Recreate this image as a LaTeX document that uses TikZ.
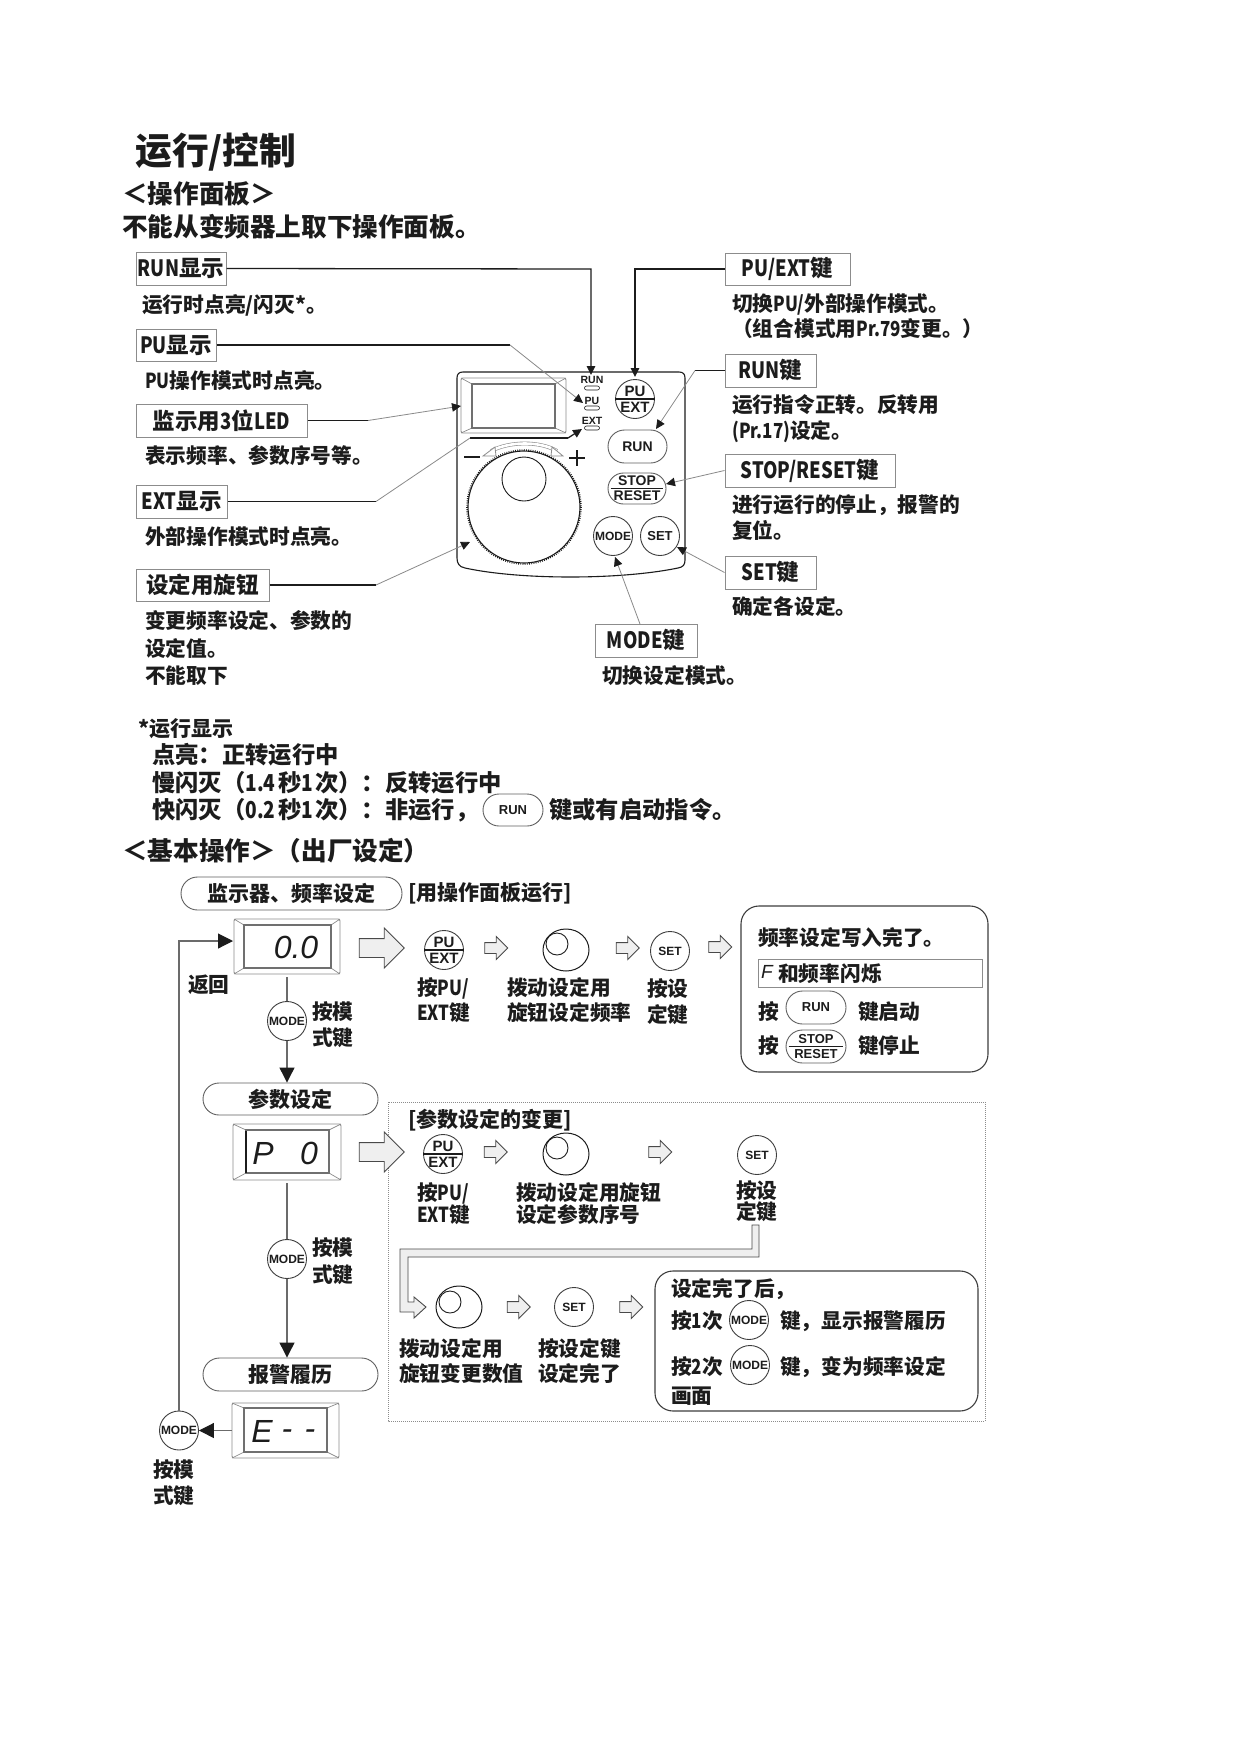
\documentclass[tikz,border=0pt]{standalone}
\usepackage{fontspec}
\setmainfont{Noto Sans CJK SC}
\newfontfamily\btnfont{Liberation Sans}
\newfontfamily\latf{Noto Sans CJK SC}[FakeStretch=0.82]
\newcommand\lf[1]{{\latf #1}}
\usetikzlibrary{arrows.meta,shapes.misc,shapes.geometric,shapes.arrows,calc}
\definecolor{ink}{HTML}{1C1C1C}
\definecolor{lead}{HTML}{8A8A8A}
\definecolor{edge}{HTML}{8C8C8C}
\definecolor{hollow}{HTML}{EFEFEF}
\newcounter{tc}
\newcommand\tx[4]{\stepcounter{tc}\node[txt,font=\fontsize{#3}{#3}\selectfont\bfseries] (t\arabic{tc}) at (#1,#2) {#4};}
\newcommand\lblbox[6]{\node[lblstyle,minimum width={(#4-#2)*1pt},minimum height={(#5-#3)*1pt},font=\fontsize{22.5}{22.5}\selectfont\bfseries] (#1) at ({(#2+#4)/2},{(#3+#5)/2}) {#6};}
\newcommand\pillbox[6]{\node[pillstyle,minimum width={(#4-#2)*1pt},minimum height={(#5-#3)*1pt}] (#1) at ({(#2+#4)/2},{(#3+#5)/2}) {#6};}
\newcommand\puext[4]{\node[btn,minimum size=#4] (#1) at (#2,#3) {};
  \node[btnlabel,font=\btnfont\bfseries\fontsize{15}{15}\selectfont] (#1a) at (#2,{#3-8}) {PU};
  \node[btnlabel,font=\btnfont\bfseries\fontsize{15}{15}\selectfont] (#1b) at (#2,{#3+8.5}) {EXT};
  \draw[line width=1.3pt,ink] (#1.west) -- (#1.east);}
\newcommand\roundbtn[5]{\node[btn,minimum size=39pt,font=\btnfont\bfseries\fontsize{#5}{#5}\selectfont] (#1) at (#2,#3) {#4};}
\newcommand\stopbtn[6]{\node[pillstyle,minimum width={(#4-#2)*1pt},minimum height={(#5-#3)*1pt}] (#1) at ({(#2+#4)/2},{(#3+#5)/2}) {};
  \node[btnlabel,font=\btnfont\bfseries\fontsize{#6}{#6}\selectfont] (#1a) at ({(#2+#4)/2},{(#3+#5)/2-7.5}) {STOP};
  \node[btnlabel,font=\btnfont\bfseries\fontsize{#6}{#6}\selectfont] (#1b) at ({(#2+#4)/2},{(#3+#5)/2+7.5}) {RESET};
  \draw[line width=1.3pt,ink] ($(#1.west)+(3,0)$) -- ($(#1.east)+(-3,0)$);}
\newcommand\runbtn[6]{\node[pillstyle,minimum width={(#4-#2)*1pt},minimum height={(#5-#3)*1pt},font=\btnfont\bfseries\fontsize{#6}{#6}\selectfont] (#1) at ({(#2+#4)/2},{(#3+#5)/2}) {RUN};}
\newcommand\smalldial[5]{\node[dialsty] (#1) at (#2,#3) {};
  \node[dialin] (#1i) at (#4,#5) {};}
\newcommand\disp[9]{\node[dispout,minimum width={(#4-#2)*1pt},minimum height={(#5-#3)*1pt}] (#1) at ({(#2+#4)/2},{(#3+#5)/2}) {};
  \draw[edge,line width=.7pt] (#2,#3) -- (#6,#7) (#4,#3) -- (#8,#7) (#2,#5) -- (#6,#9) (#4,#5) -- (#8,#9);
  \draw[edge!80!black,line width=2.4pt,fill=white] (#6,#7) rectangle (#8,#9);}
\newcommand\segtxt[5]{\stepcounter{tc}\node[inner sep=0,font=\btnfont\itshape\fontsize{#4}{#4}\selectfont,ink,#5] (t\arabic{tc}) at (#1,#2) {#3};}
\tikzset{
  x=1pt,y=-1pt,
  txt/.style={anchor=west,inner sep=0,text height=1.3em,text depth=0em,text=ink},
  lblstyle/.style={draw=edge,line width=1pt,inner sep=0,text=ink},
  pillstyle/.style={rounded rectangle,draw=ink!70,line width=.9pt,inner sep=0,text=ink,font=\fontsize{21}{21}\selectfont\bfseries,fill=white},
  btn/.style={circle,draw=ink!85,line width=.9pt,inner sep=0,fill=white,text=ink},
  btnlabel/.style={inner sep=0,text=ink},
  dialsty/.style={ellipse,draw=ink,line width=1pt,minimum width=46pt,minimum height=42pt,inner sep=0},
  dialin/.style={circle,draw=ink,line width=.9pt,minimum size=22pt,inner sep=0},
  dispout/.style={draw=edge,line width=.9pt,rounded corners=2pt,inner sep=0,fill=white},
  lk/.style={ink,line width=1.3pt},
  lg/.style={lead,line width=.8pt},
  tip/.style={-{Triangle[length=9pt,width=8.5pt,color=ink]}},
  flowln/.style={draw=ink!65,line width=1.1pt},
  bigtip/.style={-{Triangle[length=15pt,width=15pt,color=ink]}},
  harrow/.style={single arrow,draw=ink!80,fill=hollow,line width=.9pt,inner xsep=0,inner ysep=5pt,minimum height=23pt,single arrow head extend=6pt},
  harrowbig/.style={single arrow,draw=ink!80,fill=hollow,line width=.9pt,inner xsep=0,inner ysep=9pt,minimum height=45pt,single arrow head extend=10.5pt},
}
\begin{document}
\begin{tikzpicture}
\useasboundingbox[fill=white] (0,0) rectangle (1241,1755);
% headings
\tx{135}{158}{36.8}{运行/控制}
\tx{122}{197}{25.6}{＜操作面板＞}
\tx{122}{230}{25.6}{不能从变频器上取下操作面板。}
% panel
\draw[ink,line width=1.1pt] (463,372) -- (679,372) .. controls (683,372) and (685,374) .. (685,378) -- (685,560) .. controls (685,565) and (683,567) .. (678,568) .. controls (620,580) and (520,580) .. (465,568) .. controls (459,567) and (457,563) .. (457,558) -- (457,378) .. controls (457,374) and (459,372) .. (463,372) -- cycle;
\disp{pled}{461}{378}{566}{433}{472}{384}{555}{428}
\draw[ink,line width=1.1pt] (470,438) -- (568,438);
\node[btnlabel,font=\btnfont\bfseries\fontsize{10.5}{10.5}\selectfont] (irun) at (592,380) {RUN};
\node[btnlabel,font=\btnfont\bfseries\fontsize{10.5}{10.5}\selectfont] (ipu) at (592,401) {PU};
\node[btnlabel,font=\btnfont\bfseries\fontsize{10.5}{10.5}\selectfont] (iext) at (592,421) {EXT};
\node[rounded rectangle,draw=ink,line width=.6pt,minimum width=15pt,minimum height=4pt,inner sep=0] (lrun) at (592,388) {};
\node[rounded rectangle,draw=ink,line width=.6pt,minimum width=15pt,minimum height=4pt,inner sep=0] (lpu) at (592,408) {};
\node[rounded rectangle,draw=ink,line width=.6pt,minimum width=15pt,minimum height=4pt,inner sep=0] (lext) at (592,428) {};
\puext{pbtn}{635}{399}{39pt}
\runbtn{prun}{608}{430}{667}{463}{14}
\stopbtn{pstop}{608}{473}{666}{504}{14}
\roundbtn{pmode}{613}{536}{MODE}{12}
\roundbtn{pset}{660}{536}{SET}{13}
% dial
\draw[ink,line width=1.1pt] (524,507) circle [radius=56];
\draw[ink,line width=1.6pt,dash pattern=on .8pt off 1.4pt] (524,507) circle [radius=57];
\node[circle,draw=ink,line width=.9pt,minimum size=44pt,inner sep=0] (pdialin) at (524,479) {};
\draw[ink,line width=2pt] (464,457) -- (480,457);
\draw[ink,line width=1.1pt] (569,458) -- (585,458) (577,450) -- (577,466);
\draw[edge,line width=.6pt,double=white,double distance=2.6pt] (491,451) .. controls (510,441) and (540,441) .. (557,451);
\draw[edge,line width=.8pt,fill=white] (483,456) -- (495,447) -- (496,456) -- cycle;
\draw[edge,line width=.8pt,fill=white] (563,456) -- (552,447) -- (551,456) -- cycle;
% left labels
\lblbox{lrunb}{136}{252}{226}{285}{\lf{RUN}显示}
\tx{142}{306}{20.7}{运行时点亮/闪灭*。}
\lblbox{lpub}{136}{329}{216}{361}{\lf{PU}显示}
\tx{145}{382}{20.7}{\lf{PU}操作模式时点亮。}
\lblbox{lledb}{136}{404}{307}{437}{监示用\lf{3}位\lf{LED}}
\tx{145}{457}{20.7}{表示频率、参数序号等。}
\lblbox{lextb}{136}{485}{227}{518}{\lf{EXT}显示}
\tx{145}{538}{20.7}{外部操作模式时点亮。}
\lblbox{ldialb}{136}{569}{269}{601}{设定用旋钮}
\tx{145}{622}{20.7}{变更频率设定、参数的}
\tx{145}{650}{20.7}{设定值。}
\tx{145}{677}{20.7}{不能取下}
% right labels
\lblbox{rpub}{725}{253}{850}{285}{\lf{PU/EXT}键}
\tx{732}{305}{20.7}{切换\lf{PU/}外部操作模式。}
\tx{732}{330}{20.7}{（组合模式用\lf{Pr.79}变更。）}
\lblbox{rrunb}{725}{354}{816}{387}{\lf{RUN}键}
\tx{732}{406}{20.7}{运行指令正转。反转用}
\tx{732}{432}{20.7}{\lf{(Pr.17)}设定。}
\lblbox{rstopb}{725}{454}{895}{487}{\lf{STOP/RESET}键}
\tx{732}{506}{20.7}{进行运行的停止，报警的}
\tx{732}{532}{20.7}{复位。}
\lblbox{rsetb}{725}{556}{816}{589}{\lf{SET}键}
\tx{732}{608}{20.7}{确定各设定。}
\lblbox{rmodeb}{595}{624}{697}{657}{\lf{MODE}键}
\tx{602}{677}{20.7}{切换设定模式。}
% leaders
\coordinate (e1) at (591,269); \coordinate (tip1) at (591,375);
\draw[lk,tip] (lrunb.east) -- (e1) -- (tip1);
\coordinate (e2) at (510,345); \coordinate (tip2) at (583,403);
\draw[lk] (lpub.east) -- (e2); \draw[lg,tip] (e2) -- (tip2);
\coordinate (e3) at (368,420.5); \coordinate (tip3) at (461,406);
\draw[lk] (lledb.east) -- (e3); \draw[lg,tip] (e3) -- (tip3);
\coordinate (e4) at (376,501.5); \coordinate (e4b) at (470,438); \coordinate (e4c) at (568,438); \coordinate (tip4) at (582,429);
\draw[lk] (lextb.east) -- (e4); \draw[lg] (e4) -- (e4b); \draw[lk,tip] (e4c) -- (tip4);
\coordinate (e5) at (376,585); \coordinate (tip5) at (470,542);
\draw[lk] (ldialb.east) -- (e5); \draw[lg,tip] (e5) -- (tip5);
\coordinate (e6) at (635,269); \coordinate (tip6) at (635,377);
\draw[lk,tip] (rpub.west) -- (e6) -- (tip6);
\coordinate (e7) at (695,370.5); \coordinate (tip7) at (656,429);
\draw[lk] (rrunb.west) -- (e7); \draw[lg,tip] (e7) -- (tip7);
\coordinate (tip8) at (666,484);
\draw[lg,tip] (rstopb.west) -- (tip8);
\coordinate (tip9) at (677,547);
\draw[lg,tip] (rsetb.west) -- (tip9);
\coordinate (e10) at (640,624); \coordinate (tip10) at (615,557);
\draw[lg,tip] (e10) -- (tip10);
% footnote
\tx{138}{730}{21}{*运行显示}
\tx{152}{757}{23.3}{点亮：正转运行中}
\tx{152}{785}{23.3}{慢闪灭（\lf{1.4}\kern3pt 秒\lf{1}\kern2pt 次）：反转运行中}
\tx{152}{812}{23.3}{快闪灭（\lf{0.2}\kern3pt 秒\lf{1}\kern2pt 次）：非运行，}
\runbtn{frun}{483}{794}{543}{826}{13}
\tx{549}{812}{23.3}{键或有启动指令。}
\tx{122}{854}{25.6}{＜基本操作＞（出厂设定）}
% basic operation
\pillbox{p1}{181}{877}{402}{910}{监示器、频率设定}
\tx{408}{894}{21}{[用操作面板运行]}
\disp{d1}{234}{919}{340}{974}{244}{925}{331}{968}
\segtxt{296}{947}{0.0}{32}{}
\tx{188}{986}{20.7}{返回}
\roundbtn{m1}{287}{1021}{MODE}{12}
\tx{312}{1013}{20.7}{按模}
\tx{312}{1039}{20.7}{式键}
\pillbox{p2}{203}{1083}{378}{1115}{参数设定}
\disp{d2}{233}{1124}{341}{1180}{246}{1130}{329}{1173}
\draw[ink,line width=1.2pt] (d2.west -| 246,0) ++(0,-21) -- ++(0,42);
\segtxt{263}{1153}{P}{32}{}
\segtxt{309}{1153}{0}{32}{}
\roundbtn{m2}{287}{1259}{MODE}{12}
\tx{312}{1249}{20.7}{按模}
\tx{312}{1276}{20.7}{式键}
\pillbox{p3}{203}{1358}{378}{1391}{报警履历}
\disp{d3}{232}{1403}{339}{1458}{244}{1408}{327}{1452}
\segtxt{262}{1431}{E}{32}{}
\segtxt{287}{1435}{-}{32}{}
\segtxt{310}{1435}{-}{32}{}
\roundbtn{m3}{179}{1430.5}{MODE}{12}
\tx{153}{1471}{20.7}{按模}
\tx{153}{1497}{20.7}{式键}
% flow connectors
\coordinate (r1) at (179,941); \coordinate (r2) at (233,941);
\draw[flowln,bigtip] (m3.north) -- (r1) -- (r2);
\draw[flowln,shorten <=3pt] (d1.south) -- (m1.north);
\draw[flowln,bigtip] (m1.south) -- (m1.south |- p2.north);
\draw[flowln,shorten <=3pt] (d2.south) -- (m2.north);
\draw[flowln,bigtip] (m2.south) -- (m2.south |- p3.north);
\draw[flowln,bigtip] (d3.west) -- (m3.east);
% row 1
\node[harrowbig] (a1) at (377,948) {};
\puext{b1}{444}{950}{39pt}
\node[harrow] (a2) at (493.5,948) {};
\smalldial{k1}{566}{950}{557}{944}
\node[harrow] (a3) at (625,948) {};
\roundbtn{s1}{670}{951}{SET}{12}
\node[harrow] (a4) at (717.5,947) {};
\tx{417}{989}{20.7}{按\lf{PU/}}
\tx{417}{1014}{20.7}{\lf{EXT}键}
\tx{507}{989}{20.7}{拨动设定用}
\tx{507}{1014}{20.7}{旋钮设定频率}
\tx{647}{990}{20.7}{按设}
\tx{647}{1016}{20.7}{定键}
\draw[ink!85,line width=1.1pt,rounded corners=18pt] (741,906) rectangle (988,1072);
\tx{758}{939}{20.7}{频率设定写入完了。}
\node[draw=edge,line width=1pt,minimum width=224pt,minimum height=28pt,inner sep=0] (fbox) at (870,973) {};
\segtxt{767}{972}{F}{19}{}
\tx{778}{975}{20.7}{和频率闪烁}
\tx{758}{1013}{20.7}{按}
\runbtn{rb2}{786}{991}{846}{1024}{13}
\tx{858}{1013}{20.7}{键启动}
\tx{758}{1047}{20.7}{按}
\stopbtn{sb2}{786}{1030}{846}{1063}{13}
\tx{858}{1047}{20.7}{键停止}
% dotted frame
\draw[edge,line width=1pt,densely dotted] (388,1102) rectangle (985,1421);
\tx{408}{1121}{21}{[参数设定的变更]}
\node[harrowbig] (a5) at (377,1152) {};
\puext{b2}{443}{1154}{39pt}
\node[harrow] (a6) at (493,1152) {};
\smalldial{k2}{566}{1154}{557}{1148}
\node[harrow] (a7) at (657.5,1152) {};
\roundbtn{s2}{757}{1155}{SET}{12}
\tx{417}{1194}{20.7}{按\lf{PU/}}
\tx{417}{1216}{20.7}{\lf{EXT}键}
\tx{516}{1194}{20.7}{拨动设定用旋钮}
\tx{516}{1216}{20.7}{设定参数序号}
\tx{736}{1192}{20.7}{按设}
\tx{736}{1213}{20.7}{定键}
\draw[ink!80,line width=.9pt,fill=hollow] (752,1225) -- (759,1225) -- (759,1257) -- (408,1257) -- (408,1302) -- (414,1302) -- (414,1297) -- (426,1307) -- (414,1318) -- (414,1312) -- (400,1312) -- (400,1249) -- (752,1249) -- cycle;
\smalldial{k3}{459}{1307}{450}{1302}
\node[harrow] (a8) at (516,1307) {};
\roundbtn{s3}{574}{1307}{SET}{12}
\node[harrow] (a9) at (628.5,1307) {};
\tx{399}{1350}{20.7}{拨动设定用}
\tx{399}{1375}{20.7}{旋钮变更数值}
\tx{538}{1350}{20.7}{按设定键}
\tx{538}{1375}{20.7}{设定完了}
\draw[ink!85,line width=1.1pt,rounded corners=18pt] (655,1271) rectangle (978,1411);
\tx{671}{1290}{20.7}{设定完了后，}
\tx{671}{1322}{20.7}{按\lf{1}次}
\roundbtn{m4}{749}{1320}{MODE}{12}
\tx{780}{1322}{20.7}{键，显示报警履历}
\tx{671}{1368}{20.7}{按\lf{2}次}
\roundbtn{m5}{750}{1365}{MODE}{12}
\tx{780}{1368}{20.7}{键，变为频率设定}
\tx{671}{1397}{20.7}{画面}
\end{tikzpicture}
\end{document}
